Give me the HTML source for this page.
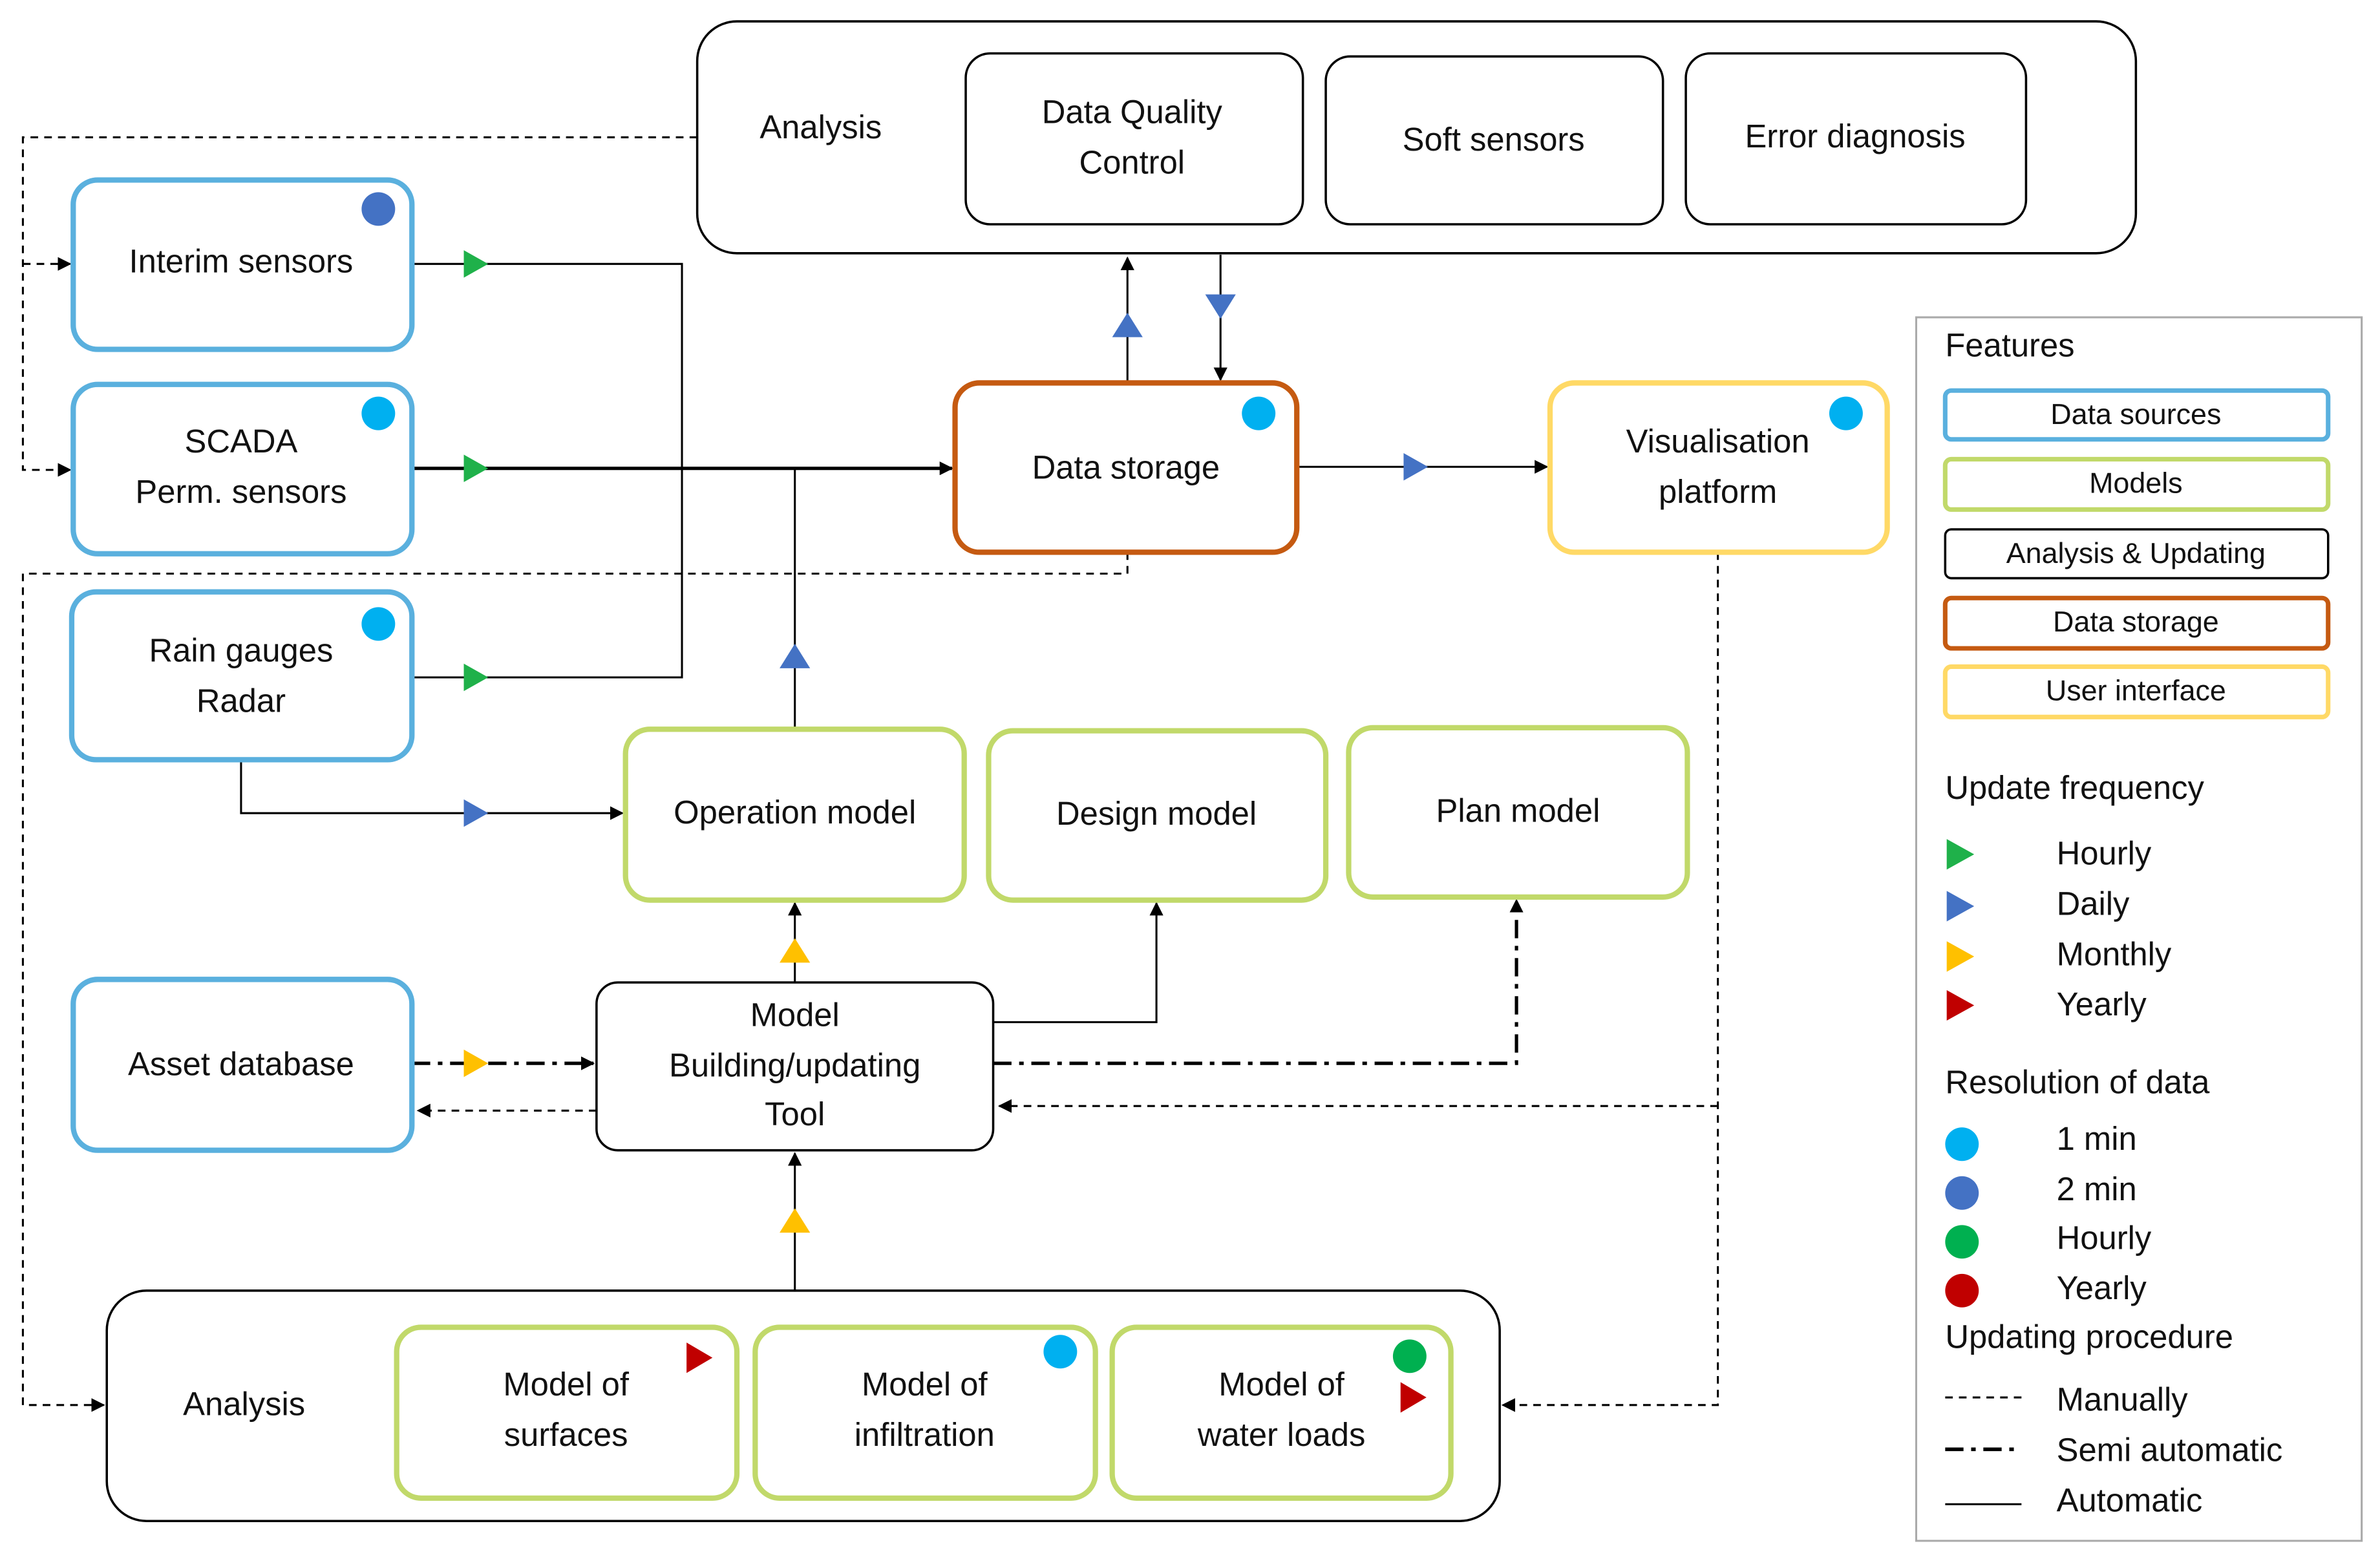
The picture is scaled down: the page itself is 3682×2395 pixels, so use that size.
<!DOCTYPE html>
<html><head><meta charset="utf-8"><style>
html,body{margin:0;padding:0;background:#fff}
svg{display:block}
text{font-family:"Liberation Sans",sans-serif;font-size:21.5px;fill:#111;text-anchor:middle;dominant-baseline:middle}
.l{text-anchor:start}
</style></head><body>
<svg width="3682" height="2395" viewBox="0 0 1560 1014.7" preserveAspectRatio="none" xmlns="http://www.w3.org/2000/svg">
<defs>
<marker id="a" viewBox="0 0 10 10" refX="9" refY="5" markerWidth="9" markerHeight="9" markerUnits="userSpaceOnUse" orient="auto"><path d="M0,0L10,5L0,10z" fill="#000"/></marker>
</defs>
<g fill="none" stroke="#000" stroke-width="1.3">
<path d="M457,90H15V308H46" stroke-dasharray="5,4" marker-end="url(#a)"/>
<path d="M15,173H46" stroke-dasharray="5,4" marker-end="url(#a)"/>
<path d="M739,362V376H15V921H68" stroke-dasharray="5,4" marker-end="url(#a)"/>
<path d="M1126,362V921H985" stroke-dasharray="5,4" marker-end="url(#a)"/>
<path d="M1126,725H655" stroke-dasharray="5,4" marker-end="url(#a)"/>
<path d="M391,728H274" stroke-dasharray="5,4" marker-end="url(#a)"/>
<path d="M270,173H447V444H270"/>
<path d="M270,307H624" stroke-width="2.2" marker-end="url(#a)"/>
<path d="M521,478V307"/>
<path d="M739,251V169" marker-end="url(#a)"/>
<path d="M800,167V249" marker-end="url(#a)"/>
<path d="M850,306H1014" marker-end="url(#a)"/>
<path d="M158,498V533H408" marker-end="url(#a)"/>
<path d="M521,644V592" marker-end="url(#a)"/>
<path d="M651,670H758V592" marker-end="url(#a)"/>
<path d="M521,846V756" marker-end="url(#a)"/>
<path d="M651,697H994V590" stroke-width="2.2" stroke-dasharray="12,5,3,5" marker-end="url(#a)"/>
<path d="M270,697H389" stroke-width="2.2" stroke-dasharray="12,5,3,5" marker-end="url(#a)"/>
</g>
<g>
<path d="M304,164l16,9l-16,9z" fill="#1fb14a"/>
<path d="M304,298l16,9l-16,9z" fill="#1fb14a"/>
<path d="M304,435l16,9l-16,9z" fill="#1fb14a"/>
<path d="M304,524l16,9l-16,9z" fill="#4472c4"/>
<path d="M920,297l16,9l-16,9z" fill="#4472c4"/>
<path d="M511,438l10,-16l10,16z" fill="#4472c4"/>
<path d="M729,221l10,-16l10,16z" fill="#4472c4"/>
<path d="M790,193l10,16l10,-16z" fill="#4472c4"/>
<path d="M511,631l10,-16l10,16z" fill="#ffc000"/>
<path d="M511,808l10,-16l10,16z" fill="#ffc000"/>
<path d="M304,688l16,9l-16,9z" fill="#ffc000"/>
</g>
<g fill="#fff" stroke="#000" stroke-width="1.5">
<rect x="457" y="14" width="943" height="152" rx="26"/>
<rect x="633" y="35" width="221" height="112" rx="16"/>
<rect x="869" y="37" width="221" height="110" rx="16"/>
<rect x="1105" y="35" width="223" height="112" rx="16"/>
<rect x="391" y="644" width="260" height="110" rx="14"/>
<rect x="70" y="846" width="913" height="151" rx="26"/>
</g>
<g fill="#fff" stroke="#5ab0de" stroke-width="3.5">
<rect x="48" y="118" width="222" height="111" rx="16"/>
<rect x="48" y="252" width="222" height="111" rx="16"/>
<rect x="47" y="388" width="223" height="110" rx="16"/>
<rect x="48" y="642" width="222" height="112" rx="16"/>
</g>
<rect x="626" y="251" width="224" height="111" rx="16" fill="#fff" stroke="#c55a11" stroke-width="3.5"/>
<rect x="1016" y="251" width="221" height="111" rx="16" fill="#fff" stroke="#ffd966" stroke-width="3.5"/>
<g fill="#fff" stroke="#c1d96a" stroke-width="3.5">
<rect x="410" y="478" width="222" height="112" rx="16"/>
<rect x="648" y="479" width="221" height="111" rx="16"/>
<rect x="884" y="477" width="222" height="111" rx="16"/>
<rect x="260" y="870" width="223" height="112" rx="16"/>
<rect x="495" y="870" width="223" height="112" rx="16"/>
<rect x="729" y="870" width="222" height="112" rx="16"/>
</g>
<path d="M450,880l17,10l-17,10z" fill="#c00000"/>
<path d="M918,906l17,10l-17,10z" fill="#c00000"/>
<circle cx="248" cy="137" r="11" fill="#4472c4"/>
<circle cx="248" cy="271" r="11" fill="#00b0f0"/>
<circle cx="248" cy="409" r="11" fill="#00b0f0"/>
<circle cx="825" cy="271" r="11" fill="#00b0f0"/>
<circle cx="1210" cy="271" r="11" fill="#00b0f0"/>
<circle cx="695" cy="886" r="11" fill="#00b0f0"/>
<circle cx="924" cy="889" r="11" fill="#00b050"/>
<text x="538" y="85">Analysis</text>
<text x="742" y="75">Data Quality</text><text x="742" y="108">Control</text>
<text x="979" y="93">Soft sensors</text>
<text x="1216" y="91">Error diagnosis</text>
<text x="158" y="173">Interim sensors</text>
<text x="158" y="291">SCADA</text><text x="158" y="324">Perm. sensors</text>
<text x="158" y="428">Rain gauges</text><text x="158" y="461">Radar</text>
<text x="158" y="699">Asset database</text>
<text x="738" y="308">Data storage</text>
<text x="1126" y="291">Visualisation</text><text x="1126" y="324">platform</text>
<text x="521" y="534">Operation model</text>
<text x="758" y="535">Design model</text>
<text x="995" y="533">Plan model</text>
<text x="521" y="667">Model</text><text x="521" y="700">Building/updating</text><text x="521" y="732">Tool</text>
<text x="160" y="922">Analysis</text>
<text x="371" y="909">Model of</text><text x="371" y="942">surfaces</text>
<text x="606" y="909">Model of</text><text x="606" y="942">infiltration</text>
<text x="840" y="909">Model of</text><text x="840" y="942">water loads</text>
<rect x="1256" y="208" width="292" height="802" fill="#fff" stroke="#aaa" stroke-width="1.3"/>
<text class="l" x="1275" y="228">Features</text>
<g fill="#fff" stroke-width="3">
<rect x="1275" y="256" width="251" height="32" rx="4" stroke="#5ab0de"/>
<rect x="1275" y="301" width="251" height="33" rx="4" stroke="#c1d96a"/>
<rect x="1275" y="347" width="251" height="32" rx="4" stroke="#000" stroke-width="1.5"/>
<rect x="1275" y="392" width="251" height="33" rx="4" stroke="#c55a11"/>
<rect x="1275" y="437" width="251" height="33" rx="4" stroke="#ffd966"/>
</g>
<text x="1400" y="273" style="font-size:19px">Data sources</text>
<text x="1400" y="318" style="font-size:19px">Models</text>
<text x="1400" y="364" style="font-size:19px">Analysis &amp; Updating</text>
<text x="1400" y="409" style="font-size:19px">Data storage</text>
<text x="1400" y="454" style="font-size:19px">User interface</text>
<text class="l" x="1275" y="518">Update frequency</text>
<path d="M1276,550l18,10l-18,10z" fill="#1fb14a"/>
<path d="M1276,584l18,10l-18,10z" fill="#4472c4"/>
<path d="M1276,617l18,10l-18,10z" fill="#ffc000"/>
<path d="M1276,649l18,10l-18,10z" fill="#c00000"/>
<text class="l" x="1348" y="561">Hourly</text>
<text class="l" x="1348" y="594">Daily</text>
<text class="l" x="1348" y="627">Monthly</text>
<text class="l" x="1348" y="660">Yearly</text>
<text class="l" x="1275" y="711">Resolution of data</text>
<circle cx="1286" cy="750" r="11" fill="#00b0f0"/>
<circle cx="1286" cy="782" r="11" fill="#4472c4"/>
<circle cx="1286" cy="814" r="11" fill="#00b050"/>
<circle cx="1286" cy="846" r="11" fill="#c00000"/>
<text class="l" x="1348" y="748">1 min</text>
<text class="l" x="1348" y="781">2 min</text>
<text class="l" x="1348" y="813">Hourly</text>
<text class="l" x="1348" y="846">Yearly</text>
<text class="l" x="1275" y="878">Updating procedure</text>
<path d="M1275,916H1325" stroke="#000" stroke-width="1.3" stroke-dasharray="5,4"/>
<path d="M1275,950H1325" stroke="#000" stroke-width="2.4" stroke-dasharray="12,5,3,5"/>
<path d="M1275,986H1325" stroke="#000" stroke-width="1.3"/>
<text class="l" x="1348" y="919">Manually</text>
<text class="l" x="1348" y="952">Semi automatic</text>
<text class="l" x="1348" y="985">Automatic</text>
</svg>
</body></html>
